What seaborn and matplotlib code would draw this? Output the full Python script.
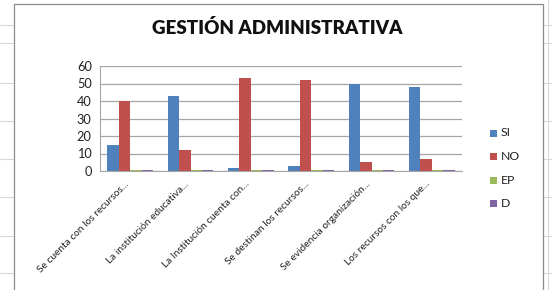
"""Gráfico de barras: Gestión administrativa."""

import pandas as pd
import matplotlib.pyplot as plt
import seaborn as sns
from matplotlib.patches import Rectangle
from matplotlib.lines import Line2D


# ====== Datos ======
CATEGORIAS = [
    "Se cuenta con los recursos...",
    "La institución educativa...",
    "La Institución cuenta con...",
    "Se destinan los recursos...",
    "Se evidencia organización...",
    "Los recursos con los que...",
]
SERIES = ["SI", "NO", "EP", "D"]
SI = [15, 43, 2, 3, 50, 48]
NO = [40, 12, 53, 52, 5, 7]
EP = [0, 0, 0, 0, 0, 0]
D = [0, 0, 0, 0, 0, 0]
COLORES = ["#4F81BD", "#C0504D", "#9BBB59", "#8064A2"]


def build_dataframe():
    filas = []
    for serie, valores in zip(SERIES, [SI, NO, EP, D]):
        for cat, v in zip(CATEGORIAS, valores):
            filas.append({"categoria": cat, "serie": serie, "valor": v})
    return pd.DataFrame(filas)


def main():
    sns.set_style("white")
    plt.rcParams["font.family"] = ["Lato", "DejaVu Sans"]

    W, H = 552, 290
    fig = plt.figure(figsize=(W / 100, H / 100), dpi=100)

    # líneas de la hoja de cálculo y marco del gráfico
    for y in [25, 43, 83, 121, 159, 197, 236, 273]:
        fig.add_artist(Line2D([0, 1], [1 - y / H] * 2, color="#d8d8d8",
                              lw=0.8, zorder=-3))
    fig.add_artist(Line2D([548 / W] * 2, [0, 1], color="#d8d8d8", lw=0.8, zorder=-3))
    fig.add_artist(Rectangle((14 / W, -0.02), (543 - 14) / W, 1 - 4 / H + 0.02,
                             facecolor="white", edgecolor="#8c8c8c", lw=0.9,
                             zorder=-2))

    ax = fig.add_axes([100 / W, 1 - 171 / H, (462 - 100) / W, (171 - 66) / H])
    ax.patch.set_alpha(0)
    df = build_dataframe()
    sns.barplot(data=df, x="categoria", y="valor", hue="serie",
                palette=COLORES, width=0.76, ax=ax, legend=False,
                edgecolor="none", saturation=1)
    for patch in ax.patches:
        if patch.get_height() == 0:
            patch.set_height(0.6)

    ax.set_ylim(0, 60)
    ax.set_yticks(range(0, 61, 10))
    ax.set_xlim(-0.5, len(CATEGORIAS) - 0.5)
    ax.yaxis.grid(True, color="#a6a6a6", lw=0.9)
    ax.set_axisbelow(True)
    for lado in ["top", "right"]:
        ax.spines[lado].set_visible(False)
    ax.spines["left"].set_color("#a6a6a6")
    ax.spines["bottom"].set_color("#a6a6a6")
    ax.set_xlabel("")
    ax.set_ylabel("")
    ax.tick_params(axis="y", labelsize=9.2, colors="#222222", length=3,
                   color="#a6a6a6", pad=3)
    ax.set_xticks([i - 0.1 for i in range(len(CATEGORIAS))])
    ax.set_xticklabels(CATEGORIAS, rotation=45, ha="right",
                       rotation_mode="anchor", fontsize=7.3, color="#222222")
    ax.tick_params(axis="x", length=0, pad=6)
    ax.set_xticks([i + 0.5 for i in range(len(CATEGORIAS) - 1)], minor=True)
    ax.tick_params(axis="x", which="minor", length=3, color="#a6a6a6")

    fig.text(277 / W, 1 - 28 / H, "GESTIÓN ADMINISTRATIVA", ha="center",
             va="center", fontsize=13.5, fontweight="heavy", color="#111111",
             family=["Lato", "DejaVu Sans"])

    # leyenda
    for i, (serie, color) in enumerate(zip(SERIES, COLORES)):
        y = 133 + i * 23.5
        fig.add_artist(Rectangle((490 / W, 1 - (y + 3.5) / H), 7 / W, 7 / H,
                                 facecolor=color, edgecolor="none"))
        fig.text(501 / W, 1 - y / H, serie, ha="left", va="center",
                 fontsize=8.8, color="#222222")

    fig.savefig("out.png", dpi=100)


if __name__ == "__main__":
    main()
